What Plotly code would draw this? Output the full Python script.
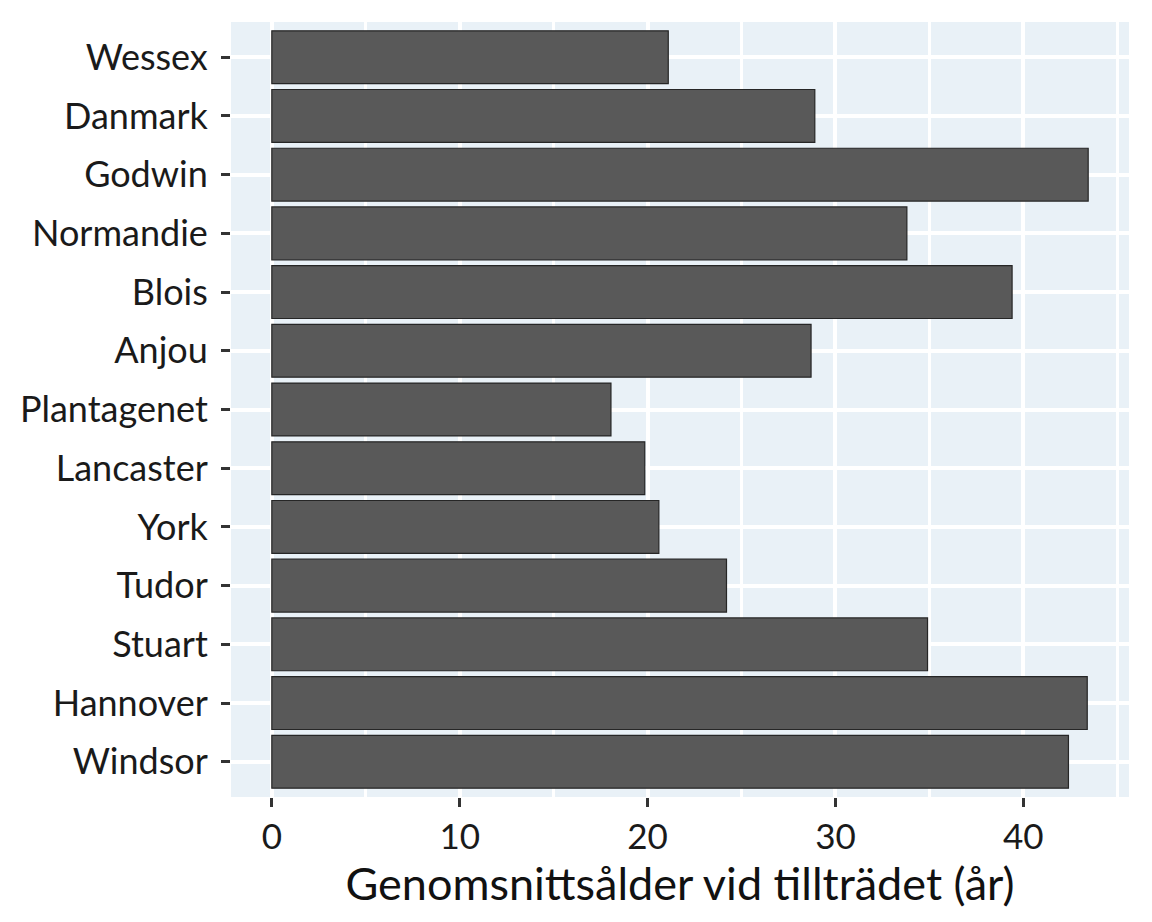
import plotly.graph_objects as go

# ätter / kungahus, uppifrån och ned
HOUSES = [
    "Wessex", "Danmark", "Godwin", "Normandie", "Blois", "Anjou",
    "Plantagenet", "Lancaster", "York", "Tudor", "Stuart", "Hannover", "Windsor",
]
# genomsnittlig ålder vid tillträdet (år)
MEAN_AGE = [21.1, 28.9, 43.45, 33.8, 39.4, 28.7, 18.05, 19.85, 20.6, 24.2, 34.9, 43.4, 42.4]
X_TICKS = [0, 10, 20, 30, 40]

PANEL_BG = "#E9F1F7"
BAR_FILL = "#595959"
FONT = "Lato"

fig = go.Figure()
fig.add_trace(
    go.Bar(
        x=MEAN_AGE,
        y=HOUSES,
        orientation="h",
        width=0.9,
        marker=dict(color=BAR_FILL, line=dict(color="#262626", width=1.2)),
        hoverinfo="x+y",
    )
)

xmax = max(MEAN_AGE)
pad = 0.05 * xmax  # ggplot-liknande expansion

# sidan har 8 px body-marginal, därför 8 px mindre till vänster/uppe
fig.update_layout(
    width=1152,
    height=922,
    margin=dict(l=223, r=31, t=14, b=133),
    paper_bgcolor="white",
    plot_bgcolor=PANEL_BG,
    font=dict(family=FONT, color="#1a1a1a"),
    showlegend=False,
    bargap=0.1,
    xaxis=dict(
        range=[-pad, xmax + pad],
        tickvals=X_TICKS,
        ticktext=[str(v) for v in X_TICKS],
        ticks="outside",
        ticklen=9,
        tickwidth=3,
        tickcolor="#333333",
        tickfont=dict(size=35, family=FONT, color="#1a1a1a"),
        showgrid=True,
        gridcolor="white",
        gridwidth=3.5,
        minor=dict(dtick=5, showgrid=True, gridcolor="white", gridwidth=2.5),
        zeroline=False,
        showline=False,
        title=dict(
            text="Genomsnittsålder vid tillträdet (år)",
            font=dict(size=45, family=FONT, color="#111111"),
            standoff=4,
        ),
    ),
    yaxis=dict(
        type="category",
        categoryorder="array",
        categoryarray=HOUSES,
        range=[len(HOUSES) - 0.4, -0.6],
        ticks="outside",
        ticklen=9,
        tickwidth=3,
        tickcolor="#333333",
        tickfont=dict(size=36, family=FONT, color="#1a1a1a"),
        ticklabelstandoff=6,
        showgrid=True,
        gridcolor="white",
        gridwidth=3.5,
        zeroline=False,
        showline=False,
    ),
)

fig.write_html("out.html")
